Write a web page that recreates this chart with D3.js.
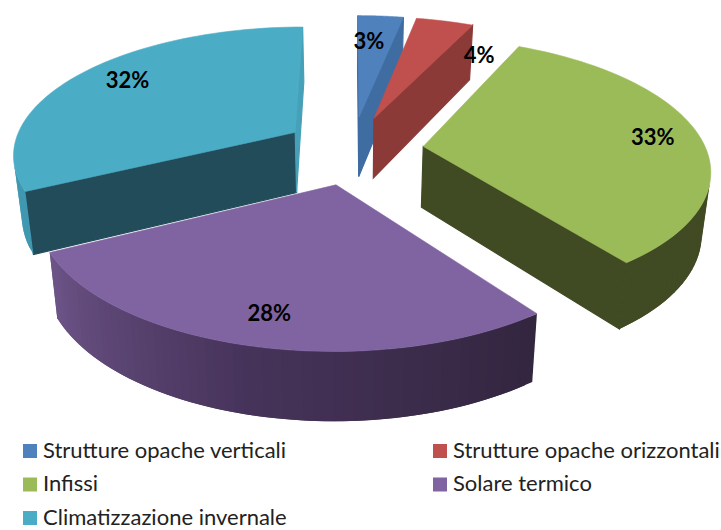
<!DOCTYPE html>
<html>
<head>
<meta charset="utf-8">
<script src="https://cdn.jsdelivr.net/npm/d3@7"></script>
<style>
  body { margin: 0; background: #fff; }
  svg { display: block; }
  text { font-family: Lato, "Open Sans", sans-serif; }
</style>
</head>
<body>
<svg id="chart" width="721" height="530"></svg>
<script>
// values, the labels show them rounded
const categories = ["Strutture opache verticali", "Strutture opache orizzontali", "Infissi", "Solare termico", "Climatizzazione invernale"];
const shares = [3.1, 3.9, 32.85, 27.7, 32.45];

const topColors = ["#4f81bd", "#c0504d", "#9bbb59", "#8064a2", "#4bacc6"];
const wallColors = ["#3f6ca1", "#8c3a38", "#404a23", "#33263f", "#224c5a"];
const endWallColors = ["#3f6ca1", "#8c3a38", "#404a23", "#33263f", "#46a0b8"];
// outer wall shade from the slice's first angle to its last
const rimShades = [
  ["#3f6ca1", "#3f6ca1", "#3f6ca1"],
  ["#8c3a38", "#8c3a38", "#8c3a38"],
  ["#404a23", "#404a23", "#404a23"],
  ["#33263f", "#46335a", "#6e5589"],
  ["#3f98b0", "#3f98b0", "#3f98b0"]
];
// how far each slice is pulled out, in disc units
const pullU = [0.033, 0.088, 0.26, -0.0475, -0.198];
const pullV = [-0.269, -0.257, -0.028, 0.262, -0.1415];
const labelNudgeX = [-8, 47, 9, -2, 6];
const labelNudgeY = [7, 16, 0, 4, -4];

const width = 721, height = 530;
const svg = d3.select("#chart");

// tilted disc: u to the right, v towards the viewer, radius 1
const persp = 0.16, depth = 61, depthPersp = 0.1, bottomShrink = 0.975;
const xScale = d3.scaleLinear().domain([-1, 1]).range([67, 633]);
const yScale = d3.scaleLinear().domain([-1, 1]).range([22.6, 277.4]);

function project(u, v, low) {
  let w = 1 - persp * v;
  let x = xScale(u / w), y = yScale(v / w);
  if (low) {
    x = xScale(0) + (x - xScale(0)) * bottomShrink;
    y = y + depth / (1 - depthPersp * v);
  }
  return [x, y];
}

const line = d3.line();
const pie = d3.pie().sort(null).startAngle(0).endAngle(2 * Math.PI);
const arcs = pie(shares);

function drawPoly(g, pts, fill, edge) {
  g.append("path")
   .attr("d", line(pts) + "Z")
   .attr("fill", fill)
   .attr("stroke", edge ? fill : "none")
   .attr("stroke-width", edge || 0);
}

arcs.forEach(function(d, i) {
  let g = svg.append("g").attr("class", "slice");

  let rim = d3.range(0, 61).map(function(k) {
    let a = d.startAngle + (d.endAngle - d.startAngle) * k / 60;
    return [pullU[i] + Math.sin(a), pullV[i] - Math.cos(a)];
  });
  let rimTop = rim.map(function(p) { return project(p[0], p[1], false); });
  let rimLow = rim.map(function(p) { return project(p[0], p[1], true); });
  let apexTop = project(pullU[i], pullV[i], false), apexLow = project(pullU[i], pullV[i], true);

  // walls, only the ones facing us
  let startWall = [apexTop, rimTop[0], rimLow[0], apexLow];
  let endWall = [apexTop, rimTop[60], rimLow[60], apexLow];
  if (d3.polygonArea(startWall) > 0) drawPoly(g, startWall, wallColors[i], 1.2);
  if (d3.polygonArea(endWall) < 0) drawPoly(g, endWall, endWallColors[i], 1.2);

  // each band runs under the next one so no seams show
  let shade = d3.scaleLinear().domain([0, 0.5, 1]).range(rimShades[i]);
  d3.range(0, 60).forEach(function(k) {
    let n = Math.min(k + 2, 60);
    let quad = [rimTop[k], rimTop[k + 1], rimLow[k + 1], rimLow[k]];
    if (d3.polygonArea(quad) > 0) {
      drawPoly(g, [rimTop[k], rimTop[n], rimLow[n], rimLow[k]], shade(k / 60), 0);
    }
  });

  drawPoly(g, [apexTop].concat(rimTop), topColors[i], 0.6);
});

// percent labels
function labelPos(d, i) {
  let mid = (d.startAngle + d.endAngle) / 2;
  return project(pullU[i] + Math.sin(mid) * 0.8, pullV[i] - Math.cos(mid) * 0.8, false);
}

svg.append("g").selectAll("text")
   .data(arcs)
   .join("text")
   .attr("x", function(d, i) { return labelPos(d, i)[0] + labelNudgeX[i]; })
   .attr("y", function(d, i) { return labelPos(d, i)[1] + labelNudgeY[i] + 8; })
   .attr("text-anchor", "middle")
   .attr("font-size", 22)
   .attr("font-weight", 700)
   .attr("fill", "#000")
   .text(function(d) { return Math.round(d.value) + "%"; });

// legend, two columns
const legendX = d3.scalePoint().domain([0, 1]).range([23, 433]);
const legendY = d3.scalePoint().domain([0, 1, 2]).range([444, 511]);

let legend = svg.append("g").selectAll("g")
   .data(categories)
   .join("g")
   .attr("transform", function(d, i) { return "translate(" + legendX(i % 2) + "," + legendY(Math.floor(i / 2)) + ")"; });

legend.append("rect")
   .attr("width", 14)
   .attr("height", 14)
   .attr("fill", function(d, i) { return topColors[i]; });

legend.append("text")
   .attr("x", 20)
   .attr("y", 13.5)
   .attr("font-size", 22)
   .attr("fill", "#222")
   .text(function(d) { return d; });
</script>
</body>
</html>
